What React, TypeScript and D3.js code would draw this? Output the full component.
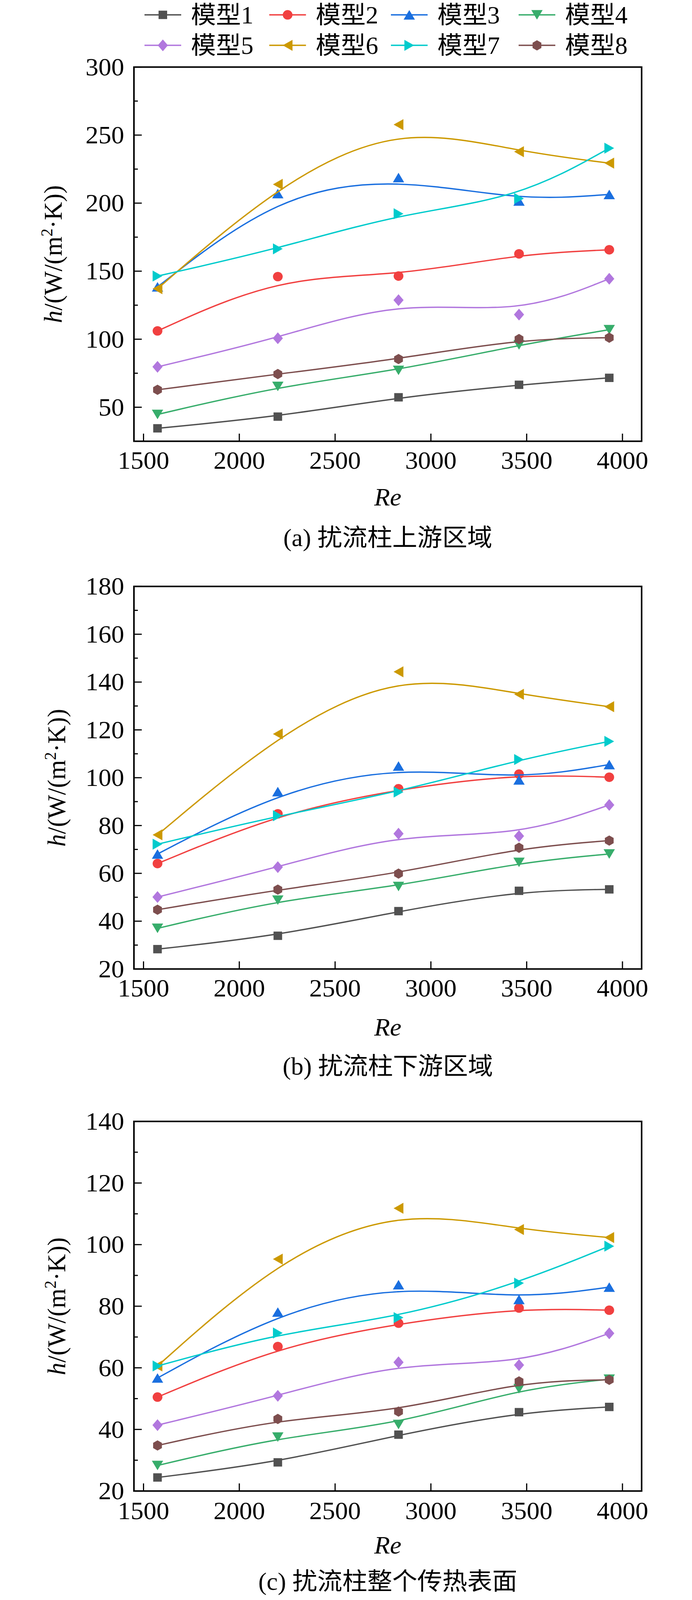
import * as d3 from "d3";
import { useEffect, useRef } from "react";

// Re values shared by all three panels
const RE = [1573, 2201, 2831, 3460, 3931];

const MODELS = ["模型1", "模型2", "模型3", "模型4", "模型5", "模型6", "模型7", "模型8"];
const COLORS = ["#515151", "#F14040", "#1A6FDF", "#37AD6B", "#B177DE", "#CC9900", "#00CBCC", "#7D4E4E"];
const SHAPES = ["square", "circle", "up", "down", "diamond", "left", "right", "hexagon"];

// (a) upstream region
const UPSTREAM = [
  [34.5, 43.1, 57.3, 66.5, 71.6],
  [106.1, 146, 146.4, 162.7, 165.7],
  [138.5, 207, 218.8, 201.6, 206.4],
  [44.7, 65.3, 77.1, 95.8, 107],
  [79.7, 100.7, 128.7, 118.1, 144.4],
  [137.1, 213.8, 257.7, 237.8, 229.4],
  [146.4, 166.4, 192.2, 203.4, 240.4],
  [62.8, 74.4, 85.4, 100.1, 101.1],
];

// (b) downstream region
const DOWNSTREAM = [
  [28.3, 33.9, 44.2, 52.7, 53.3],
  [64.1, 84.9, 95.4, 101.5, 100.2],
  [68.1, 94.2, 104.9, 99.1, 105.5],
  [37, 48.8, 54.5, 64.6, 68.1],
  [50.1, 62.6, 76.6, 75.6, 88.6],
  [76.1, 118.3, 144.3, 134.9, 129.7],
  [72.2, 84.1, 94, 107.6, 115.2],
  [44.8, 53.2, 59.9, 70.7, 73.7],
];

// (c) whole heat transfer surface
const WHOLE = [
  [24.4, 29.3, 38.3, 45.6, 47.3],
  [50.5, 66.9, 74.5, 79.4, 78.7],
  [56.7, 78.1, 87, 82.2, 86.2],
  [28.3, 37.5, 41.6, 53.2, 56.3],
  [41.4, 50.9, 61.8, 60.9, 71.2],
  [60.6, 95.3, 111.8, 104.9, 102.3],
  [60.6, 71.3, 76.3, 87.5, 99.5],
  [34.8, 43.4, 45.8, 55.6, 56.1],
];

const X_TICKS = [1500, 2000, 2500, 3000, 3500, 4000];

const PANELS = [
  {
    data: UPSTREAM,
    caption: "(a) 扰流柱上游区域",
    top: 176,
    bottom: 1158,
    yDomain: [25, 300],
    yMajor: [50, 100, 150, 200, 250, 300],
    yMinor: [75, 125, 175, 225, 275],
    titleX: 158,
    tickBase: 1230,
    reBase: 1327,
    capBase: 1433,
  },
  {
    data: DOWNSTREAM,
    caption: "(b) 扰流柱下游区域",
    top: 1539,
    bottom: 2543,
    yDomain: [20, 180],
    yMajor: [20, 40, 60, 80, 100, 120, 140, 160, 180],
    yMinor: [30, 50, 70, 90, 110, 130, 150, 170],
    titleX: 167,
    tickBase: 2615,
    reBase: 2718,
    capBase: 2820,
  },
  {
    data: WHOLE,
    caption: "(c) 扰流柱整个传热表面",
    top: 2943,
    bottom: 3913,
    yDomain: [20, 140],
    yMajor: [20, 40, 60, 80, 100, 120, 140],
    yMinor: [30, 50, 70, 90, 110, 130],
    titleX: 167,
    tickBase: 3987,
    reBase: 4077,
    capBase: 4172,
  },
];

const W = 1772;
const H = 4199;
const LEFT = 343;
const RIGHT = 1643;
const SERIF = "'Times New Roman', 'Liberation Serif', 'Noto Sans CJK SC', serif";

function markerPath(shape: string): string {
  switch (shape) {
    case "square":
      return "M-11,-11H11V11H-11Z";
    case "circle":
      return "M-12.5,0A12.5,12.5 0 1,0 12.5,0A12.5,12.5 0 1,0 -12.5,0Z";
    case "up":
      return "M0,-12.5L14.5,12.5L-14.5,12.5Z";
    case "down":
      return "M0,12.5L14.5,-12.5L-14.5,-12.5Z";
    case "diamond":
      return "M0,-15.5L13,0L0,15.5L-13,0Z";
    case "left":
      return "M-12.5,0L12.5,-14.5L12.5,14.5Z";
    case "right":
      return "M12.5,0L-12.5,-14.5L-12.5,14.5Z";
    default: {
      const pts = d3.range(6).map((i) => {
        const a = Math.PI / 2 + (i * Math.PI) / 3;
        return `${(13 * Math.cos(a)).toFixed(2)},${(13.5 * Math.sin(a)).toFixed(2)}`;
      });
      return "M" + pts.join("L") + "Z";
    }
  }
}

export default function App() {
  const svgRef = useRef<SVGSVGElement>(null);

  useEffect(() => {
    if (!svgRef.current) return;
    const svg = d3.select(svgRef.current);
    svg.selectAll("*").remove();

    svg.append("rect").attr("width", W).attr("height", H).attr("fill", "white");

    const x = d3.scaleLinear().domain([1450, 4100]).range([LEFT, RIGHT]);

    // Legend, two rows of four
    const legendX = [417, 736.5, 1048, 1375];
    const legendY = [39, 119];
    MODELS.forEach((name, i) => {
      const cx = legendX[i % 4];
      const cy = legendY[Math.floor(i / 4)];
      const g = svg.append("g").attr("transform", `translate(${cx},${cy})`);
      g.append("line")
        .attr("x1", -47)
        .attr("x2", 47)
        .attr("stroke", COLORS[i])
        .attr("stroke-width", 3.5);
      g.append("path").attr("d", markerPath(SHAPES[i])).attr("fill", COLORS[i]);
      g.append("text")
        .attr("x", 72)
        .attr("y", 22)
        .attr("font-family", SERIF)
        .attr("font-size", 64)
        .attr("fill", "black")
        .text(name);
    });

    PANELS.forEach((p) => {
      const y = d3.scaleLinear().domain(p.yDomain).range([p.bottom, p.top]);
      const g = svg.append("g");

      // Major and minor ticks, pointing inward
      g.selectAll(".ymaj")
        .data(p.yMajor)
        .enter()
        .append("line")
        .attr("x1", LEFT)
        .attr("x2", LEFT + 20)
        .attr("y1", (d) => y(d))
        .attr("y2", (d) => y(d))
        .attr("stroke", "black")
        .attr("stroke-width", 3);
      g.selectAll(".ymin")
        .data(p.yMinor)
        .enter()
        .append("line")
        .attr("x1", LEFT)
        .attr("x2", LEFT + 10)
        .attr("y1", (d) => y(d))
        .attr("y2", (d) => y(d))
        .attr("stroke", "black")
        .attr("stroke-width", 3);
      g.selectAll(".xmaj")
        .data(X_TICKS)
        .enter()
        .append("line")
        .attr("x1", (d) => x(d))
        .attr("x2", (d) => x(d))
        .attr("y1", p.bottom)
        .attr("y2", p.bottom - 20)
        .attr("stroke", "black")
        .attr("stroke-width", 3);

      // Tick labels
      g.selectAll(".ylab")
        .data(p.yMajor)
        .enter()
        .append("text")
        .attr("x", 318)
        .attr("y", (d) => y(d))
        .attr("dy", "0.33em")
        .attr("text-anchor", "end")
        .attr("font-family", SERIF)
        .attr("font-size", 66)
        .text((d) => d);
      g.selectAll(".xlab")
        .data(X_TICKS)
        .enter()
        .append("text")
        .attr("x", (d) => x(d))
        .attr("y", p.tickBase)
        .attr("text-anchor", "middle")
        .attr("font-family", SERIF)
        .attr("font-size", 66)
        .text((d) => d);

      // Smoothed curves (B-spline through the points as control points)
      const line = d3
        .line<number>()
        .x((_, j) => x(RE[j]))
        .y((d) => y(d))
        .curve(d3.curveBasis);

      p.data.forEach((vals, i) => {
        g.append("path")
          .datum(vals)
          .attr("d", line)
          .attr("fill", "none")
          .attr("stroke", COLORS[i])
          .attr("stroke-width", 3.5);
        g.selectAll(`.m${i}`)
          .data(vals)
          .enter()
          .append("path")
          .attr("transform", (d, j) => `translate(${x(RE[j])},${y(d)})`)
          .attr("d", markerPath(SHAPES[i]))
          .attr("fill", COLORS[i]);
      });

      // Frame
      g.append("rect")
        .attr("x", LEFT)
        .attr("y", p.top)
        .attr("width", RIGHT - LEFT)
        .attr("height", p.bottom - p.top)
        .attr("fill", "none")
        .attr("stroke", "black")
        .attr("stroke-width", 4);

      // Y axis title
      const yt = g
        .append("text")
        .attr("transform", `translate(${p.titleX},${(p.top + p.bottom) / 2}) rotate(-90)`)
        .attr("text-anchor", "middle")
        .attr("font-family", SERIF)
        .attr("font-size", 66);
      yt.append("tspan").attr("font-style", "italic").text("h");
      yt.append("tspan").text("/(W/(m");
      yt.append("tspan").attr("dy", -24).attr("font-size", 42).text("2");
      yt.append("tspan").attr("dy", 24).text("·K))");

      // X axis title
      g.append("text")
        .attr("x", (LEFT + RIGHT) / 2)
        .attr("y", p.reBase)
        .attr("text-anchor", "middle")
        .attr("font-family", SERIF)
        .attr("font-style", "italic")
        .attr("font-size", 66)
        .text("Re");

      // Caption
      g.append("text")
        .attr("x", (LEFT + RIGHT) / 2)
        .attr("y", p.capBase)
        .attr("text-anchor", "middle")
        .attr("font-family", SERIF)
        .attr("font-size", 64)
        .text(p.caption);
    });
  }, []);

  // the photographed area can be shorter than the full figure, so fit it in
  return (
    <div style={{ position: "absolute", left: 0, top: 0 }}>
      <svg
        ref={svgRef}
        viewBox={`0 0 ${W} ${H}`}
        preserveAspectRatio="none"
        style={{ display: "block", width: `${W}px`, height: "min(100vh, 4096px)" }}
      />
    </div>
  );
}
